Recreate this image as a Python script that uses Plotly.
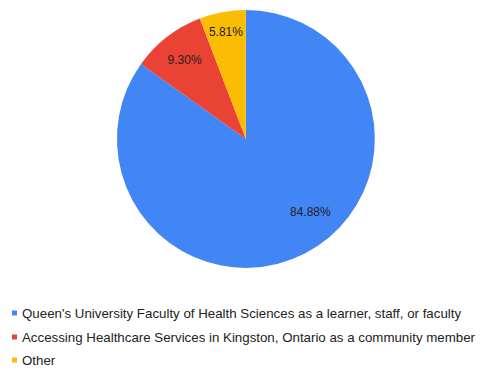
import plotly.graph_objects as go

labels = [
    "Queen's University Faculty of Health Sciences as a learner, staff, or faculty",
    "Accessing Healthcare Services in Kingston, Ontario as a community member",
    "Other",
]
counts = [73, 8, 5]
colors = ["#4285F4", "#EA4335", "#FBBC04"]

FONT = "Liberation Sans, Arial"
W, H = 485, 370

total = sum(counts)
pct_text = [f"{100 * c / total:.2f}%" for c in counts]

# The large slice gets its label placed separately (further out toward the rim);
# the small slices use the pie's own inside labels.
slice_text = ["", pct_text[1], pct_text[2]]

fig = go.Figure(
    go.Pie(
        labels=labels,
        values=counts,
        sort=False,
        direction="clockwise",
        rotation=0,
        marker=dict(colors=colors, line=dict(width=0)),
        text=slice_text,
        textinfo="text",
        textposition="inside",
        insidetextorientation="horizontal",
        textfont=dict(family=FONT, size=12, color="#222222"),
        domain=dict(x=[0.241, 0.773], y=[0.276, 0.973]),
        hovertemplate="%{label}<br>%{percent:.2%}<extra></extra>",
        showlegend=False,
    )
)

annotations = [
    dict(
        x=310 / W, y=1 - 212 / H, xref="paper", yref="paper",
        text=pct_text[0], showarrow=False,
        font=dict(family=FONT, size=12, color="#222222"),
        xanchor="center", yanchor="middle",
    )
]

# Legend below the pie: small colour squares followed by the category names
shapes = []
row_y = [313, 337, 360]
for lab, col, ry in zip(labels, colors, row_y):
    shapes.append(dict(
        type="rect", xref="paper", yref="paper",
        x0=12 / W, x1=17 / W, y0=1 - (ry + 2.5) / H, y1=1 - (ry - 2.5) / H,
        fillcolor=col, line=dict(width=0),
    ))
    annotations.append(dict(
        x=20 / W, y=1 - ry / H, xref="paper", yref="paper",
        text=lab, showarrow=False,
        font=dict(family=FONT, size=13.3, color="#222222"),
        xanchor="left", yanchor="middle",
    ))

fig.update_layout(
    width=W,
    height=H,
    margin=dict(l=0, r=0, t=0, b=0),
    paper_bgcolor="white",
    plot_bgcolor="white",
    font=dict(family=FONT, size=13, color="#222222"),
    showlegend=False,
    annotations=annotations,
    shapes=shapes,
)

fig.write_html("out.html")
